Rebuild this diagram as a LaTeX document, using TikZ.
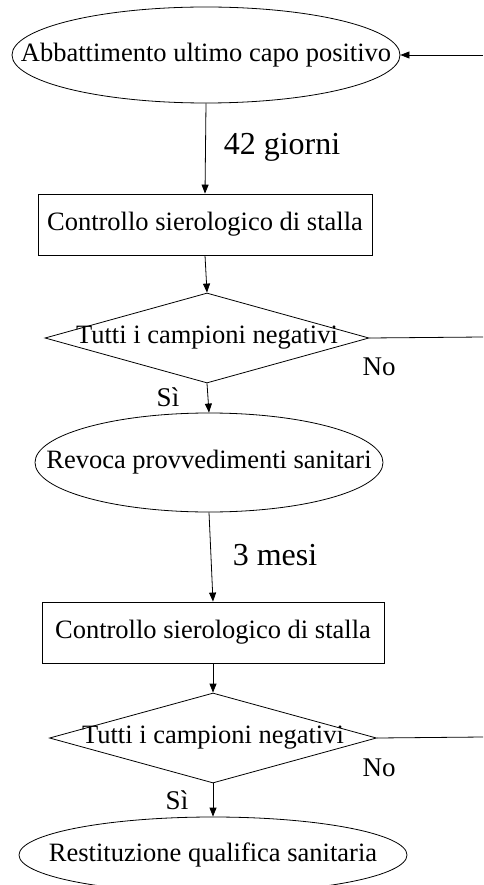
\documentclass[tikz,border=0pt]{standalone}
\usepackage{fontspec}
\setmainfont{Liberation Serif}
\usepackage{tikz}
\usetikzlibrary{arrows.meta,positioning,shapes.geometric}

\tikzset{
  fase/.style={ellipse, draw, inner sep=0pt},
  controllo/.style={rectangle, draw, inner sep=0pt},
  scelta/.style={diamond, draw, inner sep=0pt},
  freccia/.style={-{Triangle[length=9pt,width=7pt]}},
  testo/.style={font=\fontsize{26.5}{30}\selectfont},
  esito/.style={font=\fontsize{27}{31}\selectfont},
  tempo/.style={font=\fontsize{32}{36}\selectfont}
}

\begin{document}
\begin{tikzpicture}[x=1pt, y=-1pt, line width=0.8pt]
\useasboundingbox (0,0) rectangle (483,885);

\node[fase, minimum width=388pt, minimum height=96pt,
  label={[testo]center:Abbattimento ultimo capo positivo}] (abb) at (206,55) {};
\node[controllo, minimum width=334pt, minimum height=61pt, testo] (ctl1) at (205,224.5) {Controllo sierologico di stalla};
\node[scelta, minimum width=324pt, minimum height=90pt,
  label={[testo]center:Tutti i campioni negativi}] (neg1) at (207,338) {};
\node[fase, minimum width=348pt, minimum height=99pt,
  label={[testo]center:Revoca provvedimenti sanitari}] (rev) at (209,462.5) {};
\node[controllo, minimum width=342pt, minimum height=61pt, testo] (ctl2) at (213,632.5) {Controllo sierologico di stalla};
\node[scelta, minimum width=327pt, minimum height=90pt,
  label={[testo]center:Tutti i campioni negativi}] (neg2) at (213,738) {};
\node[fase, minimum width=388pt, minimum height=76pt,
  label={[testo]center:Restituzione qualifica sanitaria}] (rest) at (213,855) {};

\coordinate (ritorno) at (483,55);
\coordinate (no1) at (483,337);
\coordinate (no2) at (483,737);

% collegamenti
\draw[freccia] (ritorno) -- (abb.east);
\draw[freccia] (abb.south) -- (ctl1.north);
\draw[freccia] (ctl1.south) -- (neg1.north);
\draw (neg1.east) -- (no1);
\draw[freccia] (neg1.south) -- (rev.north);
\draw[freccia] (rev.south) -- (ctl2.north);
\draw[freccia] (ctl2.south) -- (neg2.north);
\draw (neg2.east) -- (no2);
\draw[freccia] (neg2.south) -- (rest.north);

\node[tempo] (t42) at (282,147) {42 giorni};
\node[tempo] (t3) at (275,555) {3 mesi};
\node[esito] (lno1) at (379,367) {No};
\node[esito] (lsi1) at (168,397) {Sì};
\node[esito] (lno2) at (379,768) {No};
\node[esito] (lsi2) at (177,800) {Sì};
\end{tikzpicture}
\end{document}
